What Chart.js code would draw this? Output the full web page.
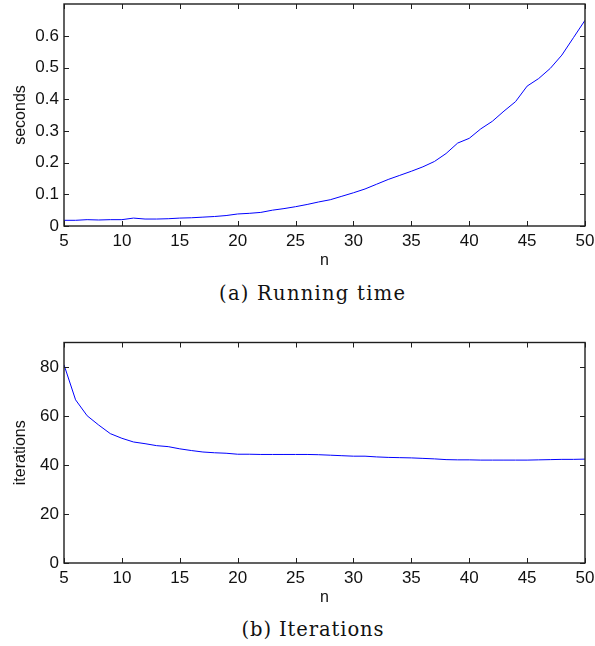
<!DOCTYPE html>
<html>
<head>
<meta charset="utf-8">
<script src="https://cdn.jsdelivr.net/npm/chart.js@4.4.1/dist/chart.umd.min.js"></script>
<style>
  html, body { margin: 0; padding: 0; background: #fff; }
  body { width: 595px; height: 646px; position: relative; overflow: hidden; }
  .plot { position: absolute; left: 0; width: 595px; height: 272px; }
  .cap { position: absolute; font-family: "DejaVu Serif", serif; font-size: 19.5px; color: #111; white-space: nowrap; line-height: 1; }
</style>
</head>
<body>
<div class="plot" id="p1" style="top:0px"><canvas id="c1"></canvas></div>
<div class="plot" id="p2" style="top:337px"><canvas id="c2"></canvas></div>
<div class="cap" id="capA">(a) Running time</div>
<div class="cap" id="capB">(b) Iterations</div>
<script>
// ---- data ----
const nValues = [5,6,7,8,9,10,11,12,13,14,15,16,17,18,19,20,21,22,23,24,25,26,27,28,29,30,
                 31,32,33,34,35,36,37,38,39,40,41,42,43,44,45,46,47,48,49,50];
const secondsValues = [0.018,0.018,0.020,0.019,0.020,0.020,0.025,0.022,0.022,0.023,
                       0.025,0.026,0.028,0.030,0.033,0.038,0.040,0.043,0.050,0.055,
                       0.061,0.068,0.076,0.083,0.094,0.105,0.117,0.132,0.147,0.160,
                       0.173,0.187,0.204,0.229,0.262,0.277,0.307,0.331,0.363,0.393,
                       0.442,0.466,0.498,0.540,0.595,0.650];
const iterationValues = [80.9,66.6,60.1,56.3,52.8,50.9,49.4,48.7,47.9,47.5,
                         46.6,45.9,45.3,45.0,44.8,44.4,44.4,44.3,44.3,44.3,
                         44.3,44.3,44.2,44.0,43.8,43.6,43.6,43.3,43.1,43.0,
                         42.9,42.7,42.5,42.2,42.1,42.1,42.0,42.0,42.0,42.0,
                         42.0,42.1,42.2,42.3,42.3,42.4];
const xTicks = [5,10,15,20,25,30,35,40,45,50];
const secondsTicks = [0,0.1,0.2,0.3,0.4,0.5,0.6];
const iterationTicks = [0,20,40,60,80];
const captions = ["(a) Running time", "(b) Iterations"];

// ---- box + inward ticks plugin ----
const boxPlugin = {
  id: 'matlabBox',
  afterDraw(chart) {
    const ctx = chart.ctx, a = chart.chartArea;
    const xs = chart.scales.x, ys = chart.scales.y;
    ctx.save();
    ctx.strokeStyle = '#1e1e1e';
    ctx.lineWidth = 1;
    ctx.beginPath();
    xs.ticks.forEach(t => {
      const px = Math.round(xs.getPixelForValue(t.value)) + 0.5;
      ctx.moveTo(px, a.bottom); ctx.lineTo(px, a.bottom - 5);
      ctx.moveTo(px, a.top); ctx.lineTo(px, a.top + 5);
    });
    ys.ticks.forEach(t => {
      const py = Math.round(ys.getPixelForValue(t.value)) + 0.5;
      ctx.moveTo(a.left, py); ctx.lineTo(a.left + 5, py);
      ctx.moveTo(a.right, py); ctx.lineTo(a.right - 5, py);
    });
    ctx.stroke();
    ctx.lineWidth = 1.4;
    ctx.strokeRect(a.left, a.top, a.right - a.left, a.bottom - a.top);
    ctx.restore();
  }
};

function zeroPad(s) { s.paddingTop = 0; s.paddingBottom = 0; s.paddingLeft = 0; s.paddingRight = 0; }

function makeChart(canvasId, values, yMin, yMax, yTickList, yTitle, topPad) {
  const tickFont = { family: '"Liberation Sans", Arial, sans-serif', size: 17 };
  const titleFont = { family: '"Liberation Sans", Arial, sans-serif', size: 16 };
  return new Chart(document.getElementById(canvasId), {
    type: 'line',
    data: {
      datasets: [{
        data: nValues.map((n, i) => ({ x: n, y: values[i] })),
        borderColor: '#0000ff',
        borderWidth: 1,
        pointRadius: 0,
        tension: 0,
        fill: false
      }]
    },
    options: {
      responsive: true,
      maintainAspectRatio: false,
      animation: false,
      events: [],
      layout: { padding: { top: topPad, right: 10, left: 0, bottom: 0 } },
      plugins: { legend: { display: false }, tooltip: { enabled: false } },
      scales: {
        x: {
          type: 'linear', min: 5, max: 50,
          afterBuildTicks: s => { s.ticks = xTicks.map(v => ({ value: v })); },
          afterFit: s => { s.height = 46; zeroPad(s); },
          grid: { display: false, drawTicks: false },
          border: { display: false },
          ticks: { font: tickFont, color: '#111', padding: 5, maxRotation: 0, autoSkip: false,
                   callback: v => String(v) },
          title: { display: true, text: 'n', font: titleFont, color: '#111', padding: { top: 0, bottom: 2 } }
        },
        y: {
          type: 'linear', min: yMin, max: yMax,
          afterBuildTicks: s => { s.ticks = yTickList.map(v => ({ value: v })); },
          afterFit: s => { s.width = 64; zeroPad(s); },
          grid: { display: false, drawTicks: false },
          border: { display: false },
          ticks: { font: tickFont, color: '#111', padding: 5, autoSkip: false,
                   callback: v => String(v) },
          title: { display: true, text: yTitle, font: titleFont, color: '#111', padding: { top: 11, bottom: 0 } }
        }
      }
    },
    plugins: [boxPlugin]
  });
}

makeChart('c1', secondsValues, 0, 0.7015, secondsTicks, 'seconds', 4);
makeChart('c2', iterationValues, 0, 90, iterationTicks, 'iterations', 5.5);

// ---- captions ----
function placeCaption(id, text, cx, baseline, targetW) {
  const el = document.getElementById(id);
  el.textContent = text;
  const w0 = el.getBoundingClientRect().width;
  const ls = (targetW - w0) / (text.length - 1);
  el.style.letterSpacing = ls + 'px';
  const w = el.getBoundingClientRect().width - ls;
  el.style.left = (cx - w / 2) + 'px';
  el.style.top = (baseline - 15.5) + 'px';
}
placeCaption('capA', captions[0], 312, 299, 186);
placeCaption('capB', captions[1], 312.5, 635, 142);
</script>
</body>
</html>
